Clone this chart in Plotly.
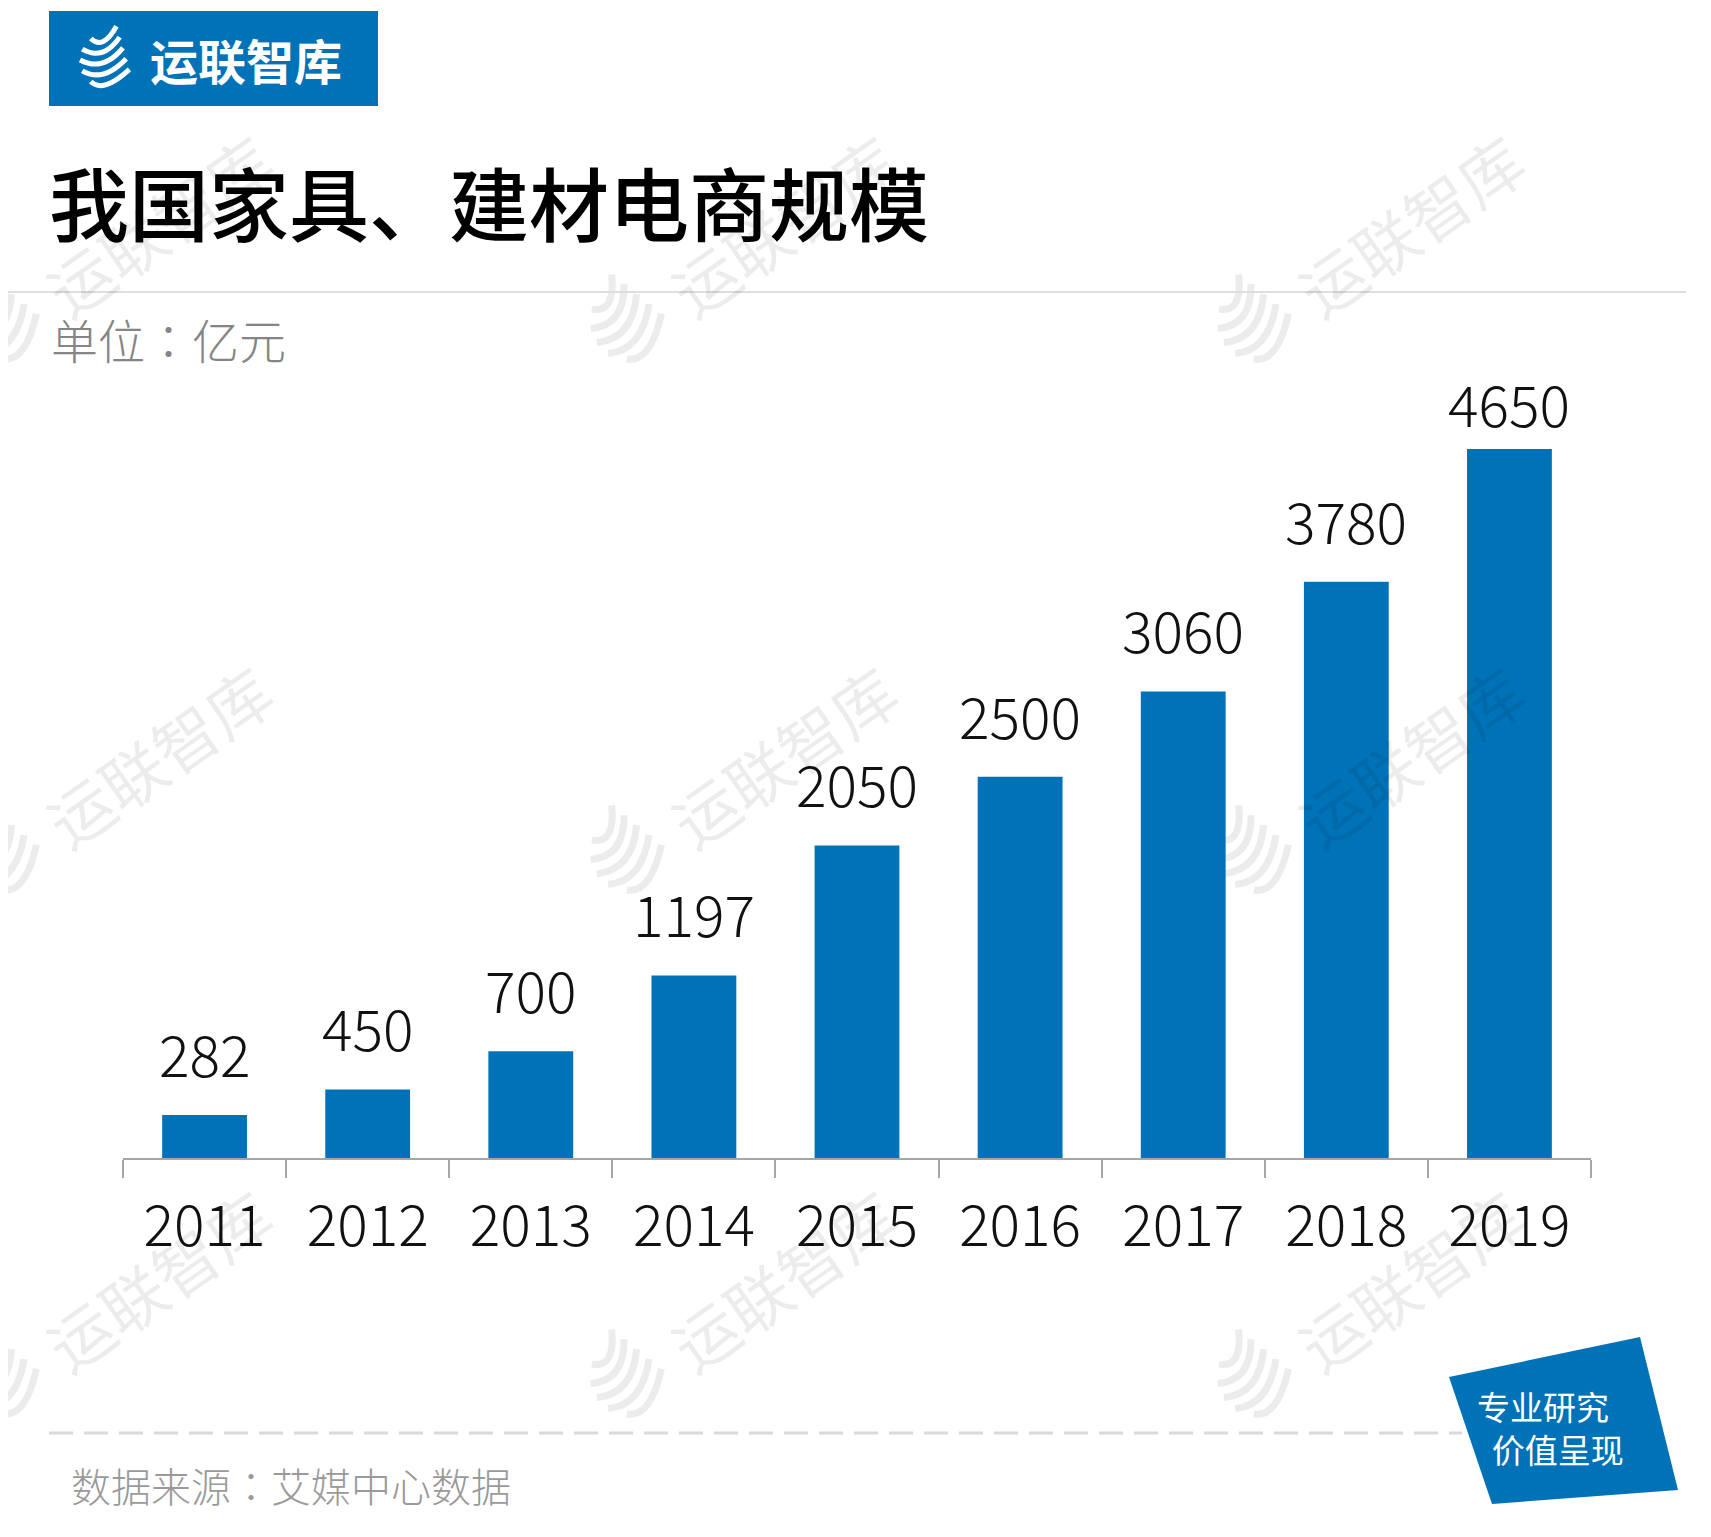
import math
import plotly.graph_objects as go

# ---- data ----
years = ["2011", "2012", "2013", "2014", "2015", "2016", "2017", "2018", "2019"]
values = [282, 450, 700, 1197, 2050, 2500, 3060, 3780, 4650]

title_text = "我国家具、建材电商规模"
unit_text = "单位：亿元"
source_text = "数据来源：艾媒中心数据"
brand_text = "运联智库"
badge_lines = ["专业研究", "价值呈现"]

# page has an 8px body margin, so the figure is a bit smaller than the window
OFF = 8
W, H = 1711 - 2 * OFF, 1537 - 2 * OFF
BLUE = "#0072b8"
CJK = "Noto Sans CJK SC"
CJK_TC = "Noto Sans CJK TC"

AXIS_Y = 1158      # pixel row of the category axis
PX_PER_UNIT = 0.15247
LABEL_TOP_MIN = 384  # labels may not climb above this pixel row


def px(x):
    return (x - OFF) / W


def py(y):
    return 1 - (y - OFF) / H


def swirl_shapes(cx, cy, r, color, width, rot=0.0, layer="below"):
    # rough copy of the brand swirl: stacked curved strokes on a ball
    ca, sa = math.cos(math.radians(rot)), math.sin(math.radians(rot))

    def pt(x, y):
        dx, dy = x - cx, y - cy
        return px(cx + dx * ca + dy * sa), py(cy - dx * sa + dy * ca)

    out = []
    rows = 5
    for k in range(rows):
        t = -0.8 + 1.6 * k / (rows - 1)
        yk = cy + t * r
        xl = cx - r * math.sqrt(1 - t * t)
        xe = cx + r * (0.35 + 0.12 * k)
        ye = yk - 0.45 * r
        qx, qy = cx - 0.15 * r, yk + 0.45 * r
        a, b, c = pt(xl, yk), pt(qx, qy), pt(xe, ye)
        d = f"M {a[0]:.5f},{a[1]:.5f} Q {b[0]:.5f},{b[1]:.5f} {c[0]:.5f},{c[1]:.5f}"
        out.append(dict(type="path", xref="paper", yref="paper", path=d, layer=layer,
                        line=dict(color=color, width=width)))
    return out


fig = go.Figure()
fig.add_trace(go.Bar(
    x=years, y=values, marker=dict(color=BLUE, line=dict(width=0)),
    hoverinfo="x+y",
))

shapes = []
annotations = []

# watermarks
wm_x = [158, 783, 1410]
wm_y = [224, 755, 1279]
for yy in wm_y:
    for xx in wm_x:
        annotations.append(dict(x=px(xx), y=py(yy), xref="paper", yref="paper", text=brand_text,
                                xanchor="center", yanchor="middle",
                                showarrow=False, textangle=-35,
                                font=dict(family=CJK, size=64, color="rgba(0,0,0,0.075)")))
        shapes += swirl_shapes(xx - 155, yy + 97, 38, "#ececec", 7, rot=35)

# value labels above the bars (category axis -> use the category index)
for i, v in enumerate(values):
    bar_top = AXIS_Y - v * PX_PER_UNIT
    shift = min(20, bar_top - 61 - LABEL_TOP_MIN)
    annotations.append(dict(x=i, y=v, xref="x", yref="y", text=str(v), showarrow=False,
                            xanchor="center", yanchor="bottom", yshift=shift,
                            font=dict(family=CJK, size=57, color="#111111", weight=300)))

# logo box
shapes.append(dict(type="rect", xref="paper", yref="paper", x0=px(49), x1=px(378), y0=py(106), y1=py(11),
                   fillcolor=BLUE, line=dict(width=0), layer="below"))
shapes += swirl_shapes(107, 60, 27, "white", 5, layer="above")
annotations.append(dict(x=px(148), y=py(59), xref="paper", yref="paper", xanchor="left", yanchor="middle",
                        text=f"<b>{brand_text}</b>", showarrow=False,
                        font=dict(family=CJK, size=48, color="white")))

# title
annotations.append(dict(x=px(47), y=py(200), xref="paper", yref="paper", xanchor="left", yanchor="middle",
                        text=title_text, showarrow=False,
                        font=dict(family=CJK, size=80, color="#000000", weight=500)))
shapes.append(dict(type="line", xref="paper", yref="paper", x0=0, x1=px(1686), y0=py(292), y1=py(292),
                   line=dict(color="#dedede", width=2)))
annotations.append(dict(x=px(49), y=py(338), xref="paper", yref="paper", xanchor="left", yanchor="middle",
                        text=unit_text, showarrow=False,
                        font=dict(family=CJK_TC, size=47, color="#858585", weight=300)))

# footer
shapes.append(dict(type="line", xref="paper", yref="paper", x0=px(49), x1=px(1462), y0=py(1433), y1=py(1433),
                   line=dict(color="#d9d9d9", width=3, dash="24px,11px")))
annotations.append(dict(x=px(69), y=py(1485), xref="paper", yref="paper", xanchor="left", yanchor="middle",
                        text=source_text, showarrow=False,
                        font=dict(family=CJK_TC, size=40, color="#9a9a9a", weight=300)))

# badge
badge = [(1449, 1377), (1640, 1337), (1678, 1490), (1492, 1504)]
d = "M " + " L ".join(f"{px(a):.5f},{py(b):.5f}" for a, b in badge) + " Z"
shapes.append(dict(type="path", xref="paper", yref="paper", path=d, fillcolor=BLUE,
                   line=dict(width=0), layer="above"))
annotations.append(dict(x=px(1475), y=py(1427), xref="paper", yref="paper",
                        text=badge_lines[0] + "<br>\u00a0\u00a0" + badge_lines[1],
                        xanchor="left", yanchor="middle", align="left",
                        showarrow=False, font=dict(family=CJK, size=33, color="white")))

y0 = py(AXIS_Y)
ymax = 5200
y1 = py(AXIS_Y - ymax * PX_PER_UNIT)

fig.update_layout(
    width=W, height=H,
    margin=dict(l=0, r=0, t=0, b=0),
    paper_bgcolor="white", plot_bgcolor="rgba(0,0,0,0)",
    showlegend=False, bargap=0.48,
    shapes=shapes, annotations=annotations,
    xaxis=dict(domain=[px(123), px(1591)], type="category", range=[-0.5, 8.5],
               showline=True, linecolor="#a6a6a6", linewidth=2,
               ticks="outside", tickson="boundaries", ticklen=18, tickwidth=2, tickcolor="#a6a6a6",
               tickfont=dict(family=CJK, size=57, color="#111111", weight=300), ticklabelstandoff=18,
               showgrid=False, zeroline=False),
    yaxis=dict(domain=[y0, y1], range=[0, ymax], visible=False, showgrid=False, zeroline=False),
)

fig.write_html("out.html")
